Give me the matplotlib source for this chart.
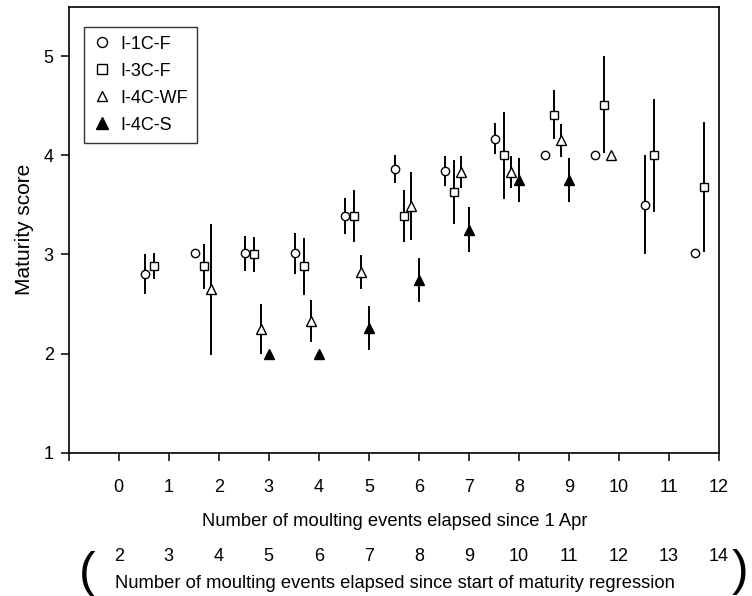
import matplotlib
matplotlib.use("Agg")
import matplotlib.pyplot as plt
from matplotlib.lines import Line2D
from matplotlib.transforms import blended_transform_factory
import numpy as np

plt.rcParams['font.family'] = ['Liberation Sans', 'DejaVu Sans']

# ---- data ----
x_tick_labels = [str(i) for i in range(0, 13)]
x2_tick_labels = [str(i) for i in range(2, 15)]

c_x = [0.52, 1.52, 2.52, 3.52, 4.52, 5.52, 6.52, 7.52, 8.52, 9.52, 10.52, 11.52]
c_y = [2.80, 3.01, 3.01, 3.01, 3.39, 3.86, 3.84, 4.17, 4.00, 4.00, 3.50, 3.01]
c_e = [0.20, 0.00, 0.18, 0.21, 0.18, 0.14, 0.15, 0.16, 0.00, 0.00, 0.50, 0.00]

s_x = [0.70, 1.70, 2.70, 3.70, 4.70, 5.70, 6.70, 7.70, 8.70, 9.70, 10.70, 11.70]
s_y = [2.88, 2.88, 3.00, 2.88, 3.39, 3.39, 3.63, 4.00, 4.41, 4.51, 4.00, 3.68]
s_e = [0.13, 0.23, 0.18, 0.29, 0.26, 0.26, 0.32, 0.44, 0.25, 0.49, 0.57, 0.66]

t_x = [1.84, 2.84, 3.84, 4.84, 5.84, 6.84, 7.84, 8.84, 9.84]
t_y = [2.65, 2.25, 2.33, 2.82, 3.49, 3.83, 3.83, 4.15, 4.00]
t_e = [0.66, 0.25, 0.21, 0.17, 0.34, 0.16, 0.16, 0.17, 0.00]

f_x = [3, 4, 5, 6, 7, 8, 9]
f_y = [2.00, 2.00, 2.26, 2.74, 3.25, 3.75, 3.75]
f_e = [0.00, 0.00, 0.22, 0.22, 0.23, 0.22, 0.22]

series = [
    ("I-1C-F", c_x, c_y, c_e, 'o', 'white', 6.0),
    ("I-3C-F", s_x, s_y, s_e, 's', 'white', 6.2),
    ("I-4C-WF", t_x, t_y, t_e, '^', 'white', 6.6),
    ("I-4C-S", f_x, f_y, f_e, '^', 'black', 7.0),
]

fig = plt.figure(figsize=(7.52, 5.96), dpi=100)
ax = fig.add_axes([0.0914, 0.2404, 0.9561 - 0.0914, 0.9888 - 0.2404])

handles = []
for name, xs, ys, es, mk, fc, ms in series:
    xs = np.array(xs, float); ys = np.array(ys, float); es = np.array(es, float)
    m = es > 0
    ax.vlines(xs[m], ys[m] - es[m], ys[m] + es[m], colors='black', lw=1.4, zorder=2)
    ax.plot(xs, ys, linestyle='none', marker=mk, ms=ms, mfc=fc, mec='black',
            mew=1.0, zorder=3)
    handles.append(Line2D([], [], linestyle='none', marker=mk, ms=ms + 1.2,
                          mfc=fc, mec='black', mew=1.0, label=name))

ax.set_xlim(-1, 12)
ax.set_ylim(1, 5.5)
ax.set_xticks(range(-1, 13))
ax.set_xticklabels([''] + x_tick_labels)
ax.set_yticks([1, 2, 3, 4, 5])
ax.set_yticklabels(['1', '2', '3', '4', '5'])
ax.tick_params(axis='x', direction='out', length=5.8, width=1.1, pad=13, labelsize=13)
ax.tick_params(axis='y', direction='out', length=5.8, width=1.1, pad=5, labelsize=13)
for sp in ax.spines.values():
    sp.set_linewidth(1.2)

ax.set_ylabel("Maturity score", fontsize=15, labelpad=7)

leg = ax.legend(handles=handles, loc='upper left', bbox_to_anchor=(0.0236, 0.955),
                borderaxespad=0, fontsize=13, frameon=True, fancybox=False,
                edgecolor='black', handlelength=1.0, handletextpad=0.5,
                labelspacing=0.55, borderpad=0.5)
leg.get_frame().set_linewidth(1.0)

# main x label
fig.text(0.5249, 1 - 521.7 / 596, "Number of moulting events elapsed since 1 Apr",
         ha='center', va='center', fontsize=13.2)

# secondary tick labels (maturity regression)
trans = blended_transform_factory(ax.transData, fig.transFigure)
for gx, lab in zip(range(0, 13), x2_tick_labels):
    ax.text(gx, 1 - 556.7 / 596, lab, transform=trans, ha='center', va='center',
            fontsize=13)
fig.text(0.5249, 1 - 583 / 596,
         "Number of moulting events elapsed since start of maturity regression",
         ha='center', va='center', fontsize=13.2)
fig.text(86.7 / 752, 1 - 574 / 596, "(", ha='center', va='center', fontsize=36)
fig.text(740 / 752, 1 - 572 / 596, ")", ha='center', va='center', fontsize=36)

fig.savefig("out.png", dpi=100)
